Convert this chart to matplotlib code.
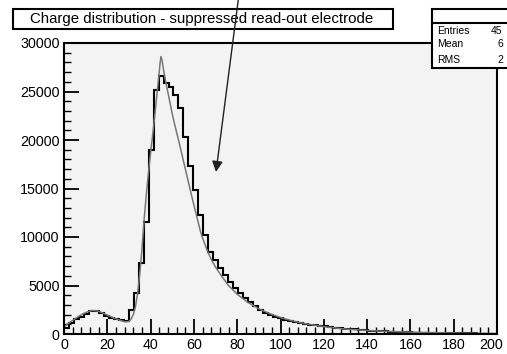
import numpy as np
import matplotlib.pyplot as plt
import matplotlib.transforms as mtransforms
from matplotlib.patches import Rectangle
from matplotlib.lines import Line2D
from matplotlib.text import Annotation

plt.rcParams['font.family'] = ['Liberation Sans', 'DejaVu Sans']

W, H = 507, 354

# charge histogram, 87 bins between 0 and 200
counts = [
    600, 1100, 1500, 1800, 2100, 2400, 2400, 2200, 1900, 1700,
    1500, 1400, 1300, 2500, 4200, 7300, 11500, 19000, 25200, 26600,
    25900, 25500, 24600, 23300, 20300, 17300, 14800, 12300, 10200, 8500,
    7600, 6800, 6100, 5400, 4700, 4200, 3700, 3250, 2850, 2450,
    2150, 1950, 1750, 1600, 1450, 1330, 1220, 1130, 1050, 970,
    900, 840, 780, 720, 660, 610, 560, 510, 470, 430,
    390, 355, 320, 290, 265, 240, 220, 200, 180, 165,
    150, 140, 125, 115, 105, 95, 90, 80, 75, 70,
    65, 60, 55, 50, 48, 45, 42,
]
edges = np.linspace(0, 200, len(counts) + 1)

# fitted function
fit_x = [0, 1, 3, 5, 7, 9, 11, 13, 15, 17, 19, 21, 23, 25, 27, 28.5, 30, 31,
         32, 33, 34, 35, 36, 37, 38, 39, 40, 41, 42, 43, 44, 44.4, 44.8, 45.3,
         46, 47, 48, 49, 50, 51, 52, 53, 55, 57, 59, 61, 63, 64, 66, 68, 70,
         73, 76, 80, 85, 90, 95, 100, 105, 110, 120, 130, 140, 150, 160, 170,
         180, 190, 200]
fit_y = [700, 900, 1250, 1550, 1850, 2100, 2300, 2420, 2400, 2250, 2050, 1850,
         1650, 1480, 1330, 1250, 1300, 1550,
         2000, 2800, 4200, 6200, 8700, 11800, 14300, 16600, 18700, 20600, 22700,
         24900, 27000, 28000, 28600, 28200,
         27200, 26000, 24900, 23800, 22700, 21700, 20800, 19900, 18000, 16100,
         14200, 12400, 10600, 9900, 8700, 7700, 6900,
         5900, 5000, 4100, 3250, 2600, 2100, 1700, 1380, 1120, 750, 510, 360,
         260, 190, 140, 100, 75, 55]

title = 'Charge distribution - suppressed read-out electrode'
stat_names = ['Entries', 'Mean', 'RMS']
stat_vals = ['45', '6', '2']


def fx(px):
    return px / W


def fy(py):
    return 1 - py / H


fig = plt.figure(figsize=(W / 100, H / 100), dpi=100)
ax = fig.add_axes([fx(64), fy(334), fx(497) - fx(64), fy(43) - fy(334)])
ax.set_facecolor('#f3f3f3')

ax.stairs(counts, edges, color='black', lw=1.5, baseline=0)
ax.plot(fit_x, fit_y, color='#777777', lw=1.1)

ax.set_xlim(0, 200)
ax.set_ylim(0, 30000)
ax.set_xticks(range(0, 201, 20))
ax.set_xticks(range(0, 201, 4), minor=True)
ax.set_yticks(range(0, 30001, 5000))
ax.set_yticks(range(0, 30001, 1000), minor=True)
ax.tick_params(which='major', direction='in', length=11, width=1.3,
               labelsize=10.3, pad=3)
ax.tick_params(which='minor', direction='in', length=5, width=1.0)
for s in ax.spines.values():
    s.set_linewidth(1.5)

# keep the last x label inside the canvas
fig.canvas.draw()
last = ax.get_xticklabels()[-1]
last.set_transform(last.get_transform() +
                   mtransforms.ScaledTranslation(-4 / 72, 0, fig.dpi_scale_trans))

# title box
fig.add_artist(Rectangle((fx(13), fy(29)), fx(393) - fx(13), fy(9) - fy(29),
                         transform=fig.transFigure, facecolor='white',
                         edgecolor='black', lw=1.5, zorder=5))
fig.text(fx(30), fy(19.5), title, fontsize=10.8, ha='left', va='center',
         zorder=6)

# statistics box
fig.add_artist(Rectangle((fx(432), fy(68)), fx(560) - fx(432), fy(9) - fy(68),
                         transform=fig.transFigure, facecolor='white',
                         edgecolor='black', lw=1.5, zorder=5))
fig.add_artist(Line2D([fx(432), fx(507)], [fy(23.3), fy(23.3)],
                      transform=fig.transFigure, color='black', lw=1.5,
                      zorder=6))
for name, val, py in zip(stat_names, stat_vals, [31, 44, 60]):
    fig.text(fx(437), fy(py), name, fontsize=7.5, ha='left', va='center',
             zorder=6)
    fig.text(fx(491 if name == 'Entries' else 497), fy(py), val, fontsize=7.5,
             ha='left', va='center', zorder=6)

# arrow pointing at the distribution tail
arrow = Annotation('', xy=(216, H - 172), xytext=(238.5, H + 2),
                   xycoords='figure pixels', textcoords='figure pixels',
                   annotation_clip=False,
                   arrowprops=dict(arrowstyle='-|>', color='#222222', lw=1.0,
                                   mutation_scale=16, shrinkA=0, shrinkB=0))
arrow.set_zorder(10)
fig.add_artist(arrow)

fig.savefig('out.png', dpi=100)
